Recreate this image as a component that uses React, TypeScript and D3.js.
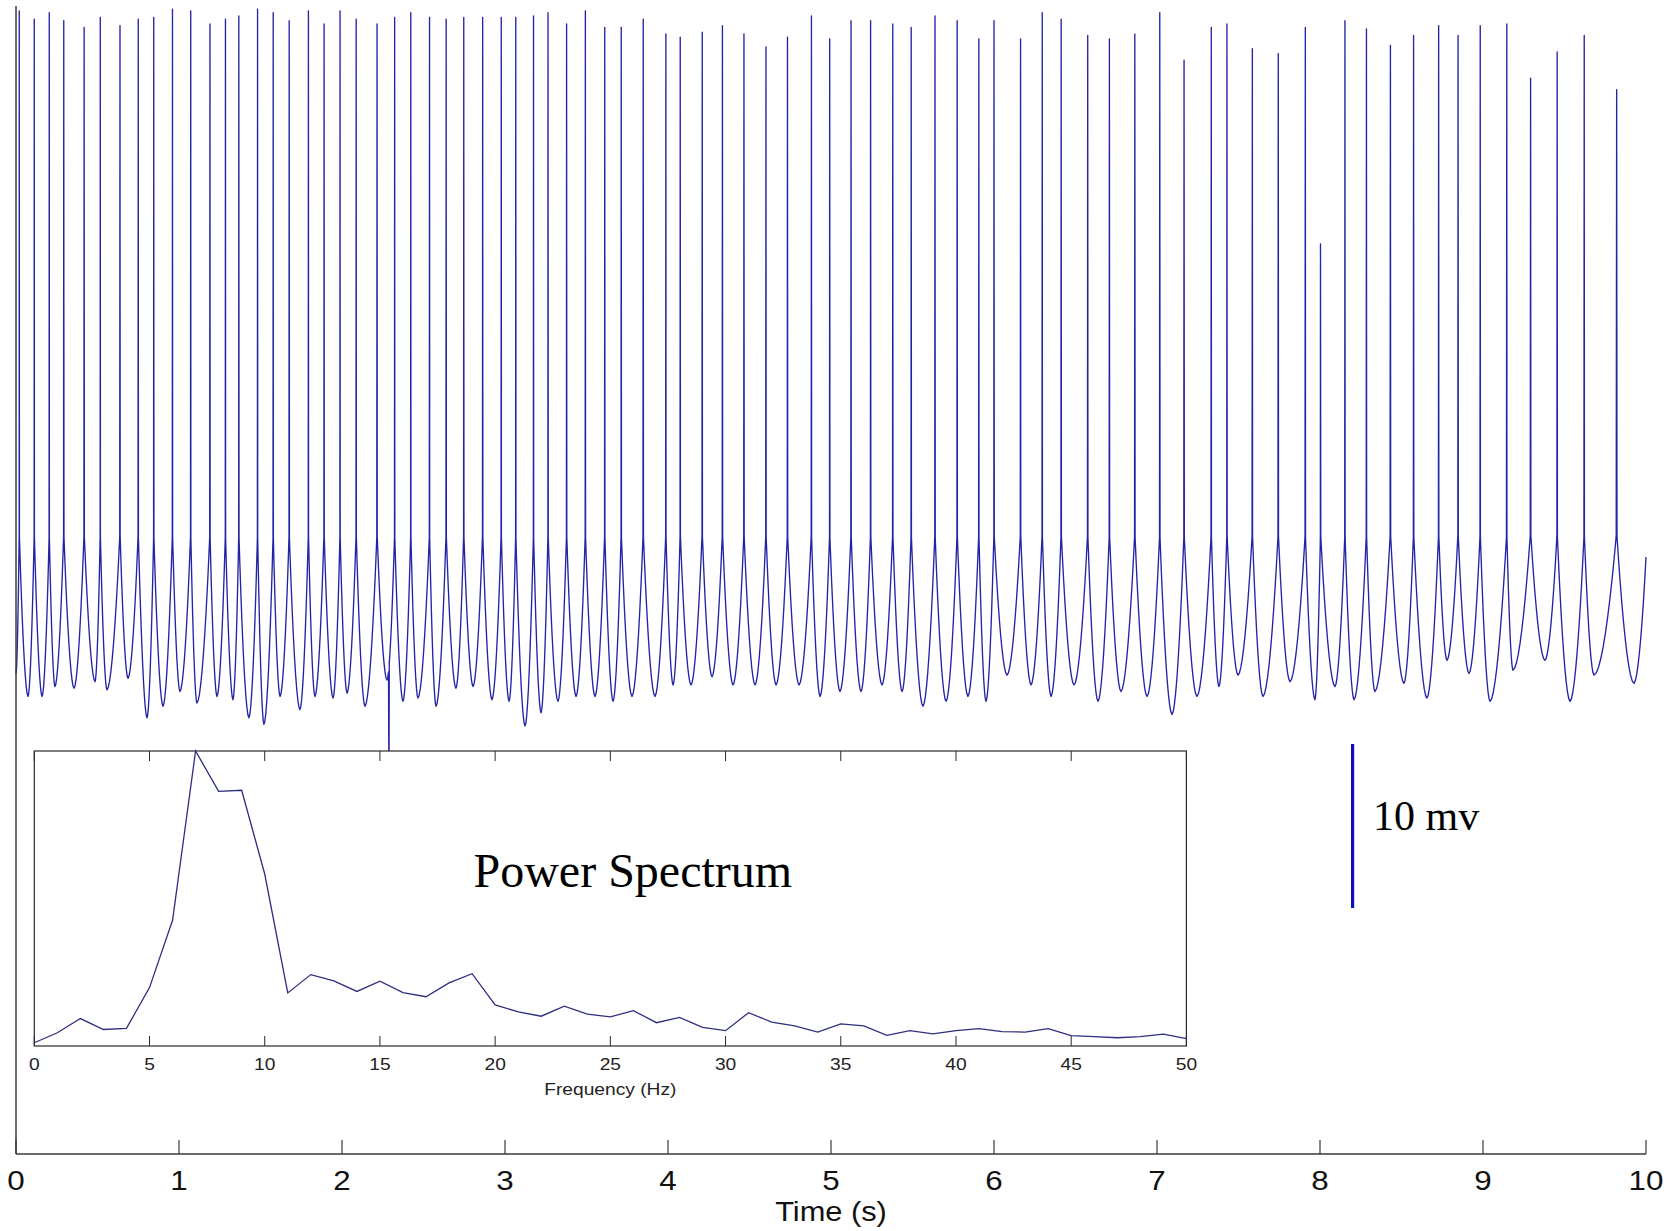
import React from "react";
import * as d3 from "d3";

// ---------- Main trace data ----------
const spikeTimes = [
  0.020, 0.112, 0.204, 0.293, 0.418, 0.517, 0.638, 0.750, 0.845, 0.960,
  1.072, 1.190, 1.285, 1.367, 1.482, 1.578, 1.676, 1.794, 1.890, 1.988,
  2.087, 2.215, 2.323, 2.422, 2.537, 2.639, 2.747, 2.863, 2.977, 3.066,
  3.175, 3.264, 3.378, 3.493, 3.612, 3.713, 3.848, 3.987, 4.075, 4.210,
  4.334, 4.466, 4.601, 4.733, 4.880, 4.992, 5.123, 5.243, 5.379, 5.492,
  5.638, 5.774, 5.907, 6.000, 6.163, 6.296, 6.412, 6.575, 6.708, 6.864,
  7.017, 7.166, 7.333, 7.429, 7.585, 7.744, 7.910, 8.003, 8.153, 8.285,
  8.432, 8.574, 8.728, 8.847, 8.983, 9.146, 9.292, 9.455, 9.621, 9.820,
];
const spikePeaks = [
  -10.3, -10.8, -10.4, -10.9, -11.3, -10.7, -11.2, -10.8, -10.7, -10.2,
  -10.3, -11.1, -10.8, -10.6, -10.2, -10.4, -10.9, -10.3, -11.1, -10.3,
  -10.8, -11.1, -10.7, -10.4, -10.7, -10.8, -10.7, -10.7, -10.7, -10.7,
  -10.6, -10.4, -11.1, -10.3, -11.3, -11.3, -10.8, -11.7, -11.9, -11.6,
  -11.2, -11.7, -12.5, -11.9, -10.6, -12.0, -10.9, -10.9, -11.1, -11.3,
  -10.6, -10.9, -12.0, -10.9, -12.0, -10.4, -10.8, -11.8, -12.0, -11.7,
  -10.4, -13.3, -11.3, -11.1, -12.6, -12.9, -11.3, -24.5, -10.9, -11.4,
  -12.4, -11.8, -11.2, -11.8, -11.2, -11.1, -14.4, -12.8, -11.8, -15.1,
];
const troughTimes = [
  0.074, 0.160, 0.239, 0.356, 0.485, 0.558, 0.687, 0.804, 0.902, 1.006,
  1.110, 1.233, 1.331, 1.429, 1.521, 1.620, 1.742, 1.834, 1.945, 2.031,
  2.141, 2.276, 2.374, 2.466, 2.577, 2.699, 2.804, 2.920, 3.025, 3.123,
  3.221, 3.325, 3.436, 3.552, 3.663, 3.779, 3.920, 4.031, 4.141, 4.270,
  4.399, 4.534, 4.663, 4.804, 4.933, 5.055, 5.184, 5.313, 5.436, 5.564,
  5.706, 5.840, 5.951, 6.080, 6.227, 6.350, 6.491, 6.638, 6.779, 6.939,
  7.092, 7.245, 7.380, 7.497, 7.650, 7.816, 7.969, 8.092, 8.209, 8.337,
  8.515, 8.656, 8.779, 8.914, 9.043, 9.184, 9.380, 9.534, 9.681, 9.926,
];
const troughValues = [
  -52.1, -52.1, -51.5, -51.6, -51.2, -51.7, -51.0, -53.4, -52.7, -51.8,
  -52.5, -52.1, -52.3, -53.4, -53.8, -52.1, -52.9, -52.1, -52.2, -51.9,
  -52.7, -51.1, -52.4, -52.2, -52.7, -51.6, -51.5, -52.3, -52.4, -53.9,
  -53.1, -52.4, -52.1, -52.1, -52.4, -52.1, -52.1, -51.4, -51.4, -50.9,
  -51.4, -51.4, -51.4, -51.4, -52.1, -51.8, -51.8, -51.4, -51.8, -52.7,
  -52.4, -52.1, -52.4, -50.8, -51.4, -52.1, -51.4, -52.4, -51.8, -52.1,
  -53.2, -52.1, -51.5, -50.8, -52.1, -51.2, -52.3, -51.5, -52.3, -51.8,
  -51.3, -52.2, -49.9, -50.7, -52.4, -50.5, -49.9, -52.4, -50.8, -51.3,
];
const traceStart: [number, number] = [0, -50.7];
const traceEnd: [number, number] = [10, -43.6];
const glitchTimes = [2.288];
const glitchValues = [-58];
const shoulderV = -42;
// cusp template: [fraction of way from spike to trough, fraction of height trough->shoulder]
const cuspProfile: [number, number][] = [
  [0.02, 0.964], [0.05, 0.912], [0.1, 0.827], [0.15, 0.746], [0.2, 0.669],
  [0.3, 0.526], [0.4, 0.399], [0.5, 0.287], [0.6, 0.192], [0.7, 0.115],
  [0.8, 0.055], [0.9, 0.016], [1, 0],
];
const timeTicks = [0, 1, 2, 3, 4, 5, 6, 7, 8, 9, 10];

// ---------- Inset: power spectrum ----------
const spectrumHz = d3.range(0, 51);
const spectrumPower = [
  1.1, 4.5, 9.3, 5.6, 6.0, 19.8, 42.6, 100, 86.3, 86.7,
  58.3, 18.0, 24.2, 22.1, 18.5, 22.0, 18.1, 16.7, 21.4, 24.5,
  13.9, 11.6, 10.1, 13.5, 10.8, 9.9, 12.0, 7.9, 9.7, 6.3,
  5.2, 11.3, 8.1, 6.8, 4.7, 7.5, 6.8, 3.6, 5.2, 4.1,
  5.2, 5.9, 4.9, 4.7, 5.9, 3.5, 3.2, 2.8, 3.2, 4.0, 2.5,
];
const freqTicks = [0, 5, 10, 15, 20, 25, 30, 35, 40, 45, 50];

const SANS = "'Liberation Sans', Arial, sans-serif";
const SERIF = "'Liberation Serif', 'Times New Roman', serif";

export default function App() {
  const x = d3.scaleLinear().domain([0, 10]).range([16, 1646]);
  const y = d3.scaleLinear().domain([-80, -10]).range([1154, 6]);

  // build trace
  const pts: [number, number][] = [];
  let prevT = traceStart[0];
  let prevV = traceStart[1];
  pts.push([prevT, prevV]);
  for (let i = 0; i < spikeTimes.length; i++) {
    const ts = spikeTimes[i];
    for (let j = cuspProfile.length - 2; j >= 0; j--) {
      const [u, f] = cuspProfile[j];
      pts.push([ts - u * (ts - prevT), prevV + f * (shoulderV - prevV)]);
    }
    pts.push([ts, spikePeaks[i]]);
    const tm = troughTimes[i];
    const vm = troughValues[i];
    for (let j = 0; j < cuspProfile.length; j++) {
      const [u, f] = cuspProfile[j];
      pts.push([ts + u * (tm - ts), vm + f * (shoulderV - vm)]);
    }
    prevT = tm;
    prevV = vm;
  }
  // final rise to end of record
  {
    const fEnd = Math.min(0.99, (traceEnd[1] - prevV) / (shoulderV - prevV));
    const us = cuspProfile.map((d) => d[0]);
    const fs = cuspProfile.map((d) => d[1]);
    const uEnd = d3.scaleLinear().domain(fs.slice().reverse()).range(us.slice().reverse())(fEnd);
    const ts = (traceEnd[0] - uEnd * prevT) / (1 - uEnd);
    for (let j = cuspProfile.length - 2; j >= 0; j--) {
      const [u, f] = cuspProfile[j];
      if (u <= uEnd) break;
      pts.push([ts - u * (ts - prevT), prevV + f * (shoulderV - prevV)]);
    }
    pts.push(traceEnd);
  }
  glitchTimes.forEach((t, i) => pts.push([t, glitchValues[i]]));
  pts.sort((a, b) => a[0] - b[0]);

  const tracePath = d3
    .line<[number, number]>()
    .x((d) => x(d[0]))
    .y((d) => y(d[1]))(pts) as string;

  // inset scales
  const fx = d3.scaleLinear().domain([0, 50]).range([34.3, 1186.4]);
  const fy = d3.scaleLinear().domain([0, 100]).range([1046, 751]);
  const specPath = d3
    .line<number>()
    .x((_, i) => fx(spectrumHz[i]))
    .y((d) => fy(d))(spectrumPower) as string;

  const axisColor = "#3a3a3a";
  const traceColor = "#2424a6";

  return (
    <svg
      width={1679}
      height={1231}
      style={{ position: "absolute", left: 0, top: 0, background: "#fff" }}
    >
      <rect x={0} y={0} width={1679} height={1231} fill="#fff" />
      {/* main trace */}
      <path d={tracePath} fill="none" stroke={traceColor} strokeWidth={1.35} strokeLinejoin="round" />

      {/* main axes */}
      <line x1={x(0)} x2={x(0)} y1={6} y2={y(-80)} stroke={axisColor} strokeWidth={1.5} />
      <line x1={x(0)} x2={x(10)} y1={y(-80)} y2={y(-80)} stroke={axisColor} strokeWidth={1.5} />
      {timeTicks.map((t) => (
        <g key={t}>
          <line x1={x(t)} x2={x(t)} y1={y(-80)} y2={y(-80) - 14} stroke={axisColor} strokeWidth={1.2} />
          <text
            transform={`translate(${x(t)},1190) scale(1.12,1)`}
            textAnchor="middle"
            fontFamily={SANS}
            fontSize={28}
            fill="#111"
          >
            {t}
          </text>
        </g>
      ))}
      <text
        transform={`translate(${x(5)},1221) scale(1.1,1)`}
        textAnchor="middle"
        fontFamily={SANS}
        fontSize={28}
        fill="#111"
      >
        Time (s)
      </text>

      {/* inset power spectrum */}
      <rect x={fx(0)} y={fy(100)} width={fx(50) - fx(0)} height={fy(0) - fy(100)} fill="#fff" stroke="#2a2a2a" strokeWidth={1.2} />
      {freqTicks.map((f) => (
        <g key={f}>
          <line x1={fx(f)} x2={fx(f)} y1={fy(0)} y2={fy(0) - 10} stroke="#2a2a2a" strokeWidth={1} />
          <line x1={fx(f)} x2={fx(f)} y1={fy(100)} y2={fy(100) + 10} stroke="#2a2a2a" strokeWidth={1} />
          <text
            transform={`translate(${fx(f)},1070) scale(1.2,1)`}
            textAnchor="middle"
            fontFamily={SANS}
            fontSize={16}
            fill="#222"
          >
            {f}
          </text>
        </g>
      ))}
      <text
        transform={`translate(${fx(25)},1095) scale(1.2,1)`}
        textAnchor="middle"
        fontFamily={SANS}
        fontSize={16}
        fill="#222"
      >
        Frequency (Hz)
      </text>
      <path d={specPath} fill="none" stroke="#2e2e80" strokeWidth={1.3} />
      <text x={473.5} y={887} fontFamily={SERIF} fontSize={48} fill="#000">
        Power Spectrum
      </text>

      {/* scale bar */}
      <line x1={x(8.2)} x2={x(8.2)} y1={y(-55)} y2={y(-65)} stroke="#1010b4" strokeWidth={3.2} />
      <text x={1373} y={830} fontFamily={SERIF} fontSize={42} fill="#000">
        10 mv
      </text>
    </svg>
  );
}
